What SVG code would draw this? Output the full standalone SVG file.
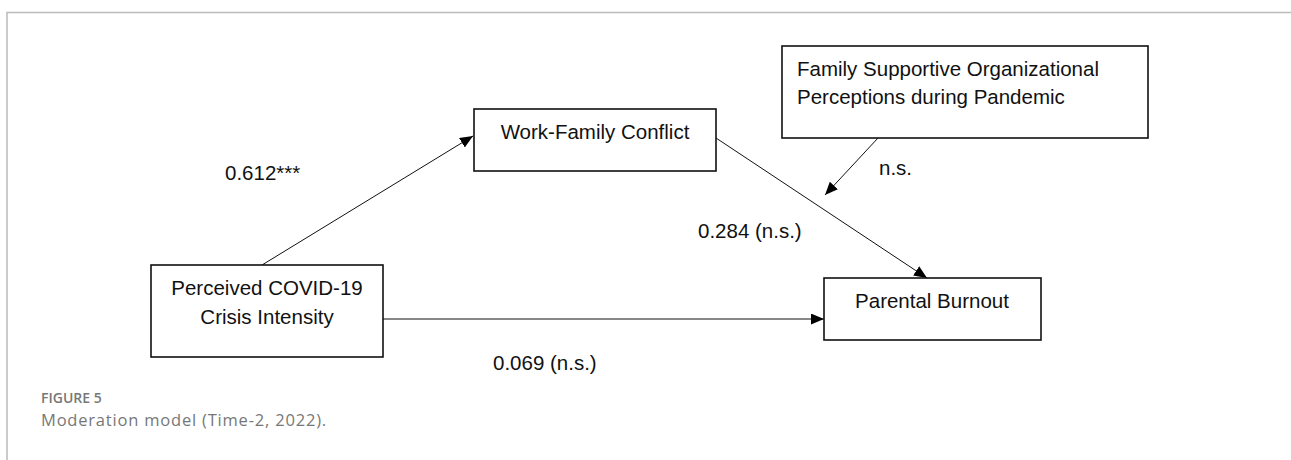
<svg xmlns="http://www.w3.org/2000/svg" width="1291" height="460" viewBox="0 0 1291 460">
<defs>
<style>
.box{fill:#fff;stroke:#111;stroke-width:1.6}
.t{font-family:"Liberation Sans",Arial,sans-serif;font-size:20.5px;fill:#111}
.c{text-anchor:middle}
.edge{stroke:#111;stroke-width:1;fill:none}
.cap{font-family:"Open Sans","Noto Sans",sans-serif;fill:#777}
</style>
<marker id="arr" markerUnits="userSpaceOnUse" markerWidth="13" markerHeight="11" refX="13" refY="5.5" orient="auto">
<path d="M0,0 L13,5.5 L0,11 z" fill="#000"/>
</marker>
</defs>
<rect width="1291" height="460" fill="#fff"/>
<path d="M7,460 V12.5 H1291" fill="none" stroke="#bbb" stroke-width="1.5"/>
<g id="connectors">
<line class="edge" x1="262" y1="265" x2="473" y2="136" marker-end="url(#arr)"/>
<line class="edge" x1="716" y1="138" x2="927" y2="278" marker-end="url(#arr)"/>
<line class="edge" x1="878" y1="138" x2="825" y2="195" marker-end="url(#arr)"/>
<line class="edge" x1="383" y1="319" x2="824" y2="319" stroke="#555" stroke-width="1.4" marker-end="url(#arr)"/>
</g>
<g id="labels">
<text class="t" x="225" y="180">0.612***</text>
<text class="t" x="698" y="238">0.284 (n.s.)</text>
<text class="t" x="879" y="175">n.s.</text>
<text class="t" x="493" y="370">0.069 (n.s.)</text>
</g>
<g id="node-pcci">
<rect class="box" x="151" y="265" width="232" height="92"/>
<text class="t c" x="267" y="295">Perceived COVID-19</text>
<text class="t c" x="267" y="324">Crisis Intensity</text>
</g>
<g id="node-wfc">
<rect class="box" x="474" y="109" width="242" height="62"/>
<text class="t c" x="595" y="139">Work-Family Conflict</text>
</g>
<g id="node-fsop">
<rect class="box" x="782" y="46" width="366" height="92"/>
<text class="t" x="797" y="76">Family Supportive Organizational</text>
<text class="t" x="797" y="104">Perceptions during Pandemic</text>
</g>
<g id="node-pb">
<rect class="box" x="824" y="278" width="217" height="62"/>
<text class="t c" x="932" y="308">Parental Burnout</text>
</g>
<g id="caption">
<text class="cap" x="41" y="403" font-size="14" font-weight="600">FIGURE 5</text>
<text class="cap" x="41" y="426" font-size="16.5" letter-spacing="0.8">Moderation model (Time-2, 2022).</text>
</g>
</svg>
